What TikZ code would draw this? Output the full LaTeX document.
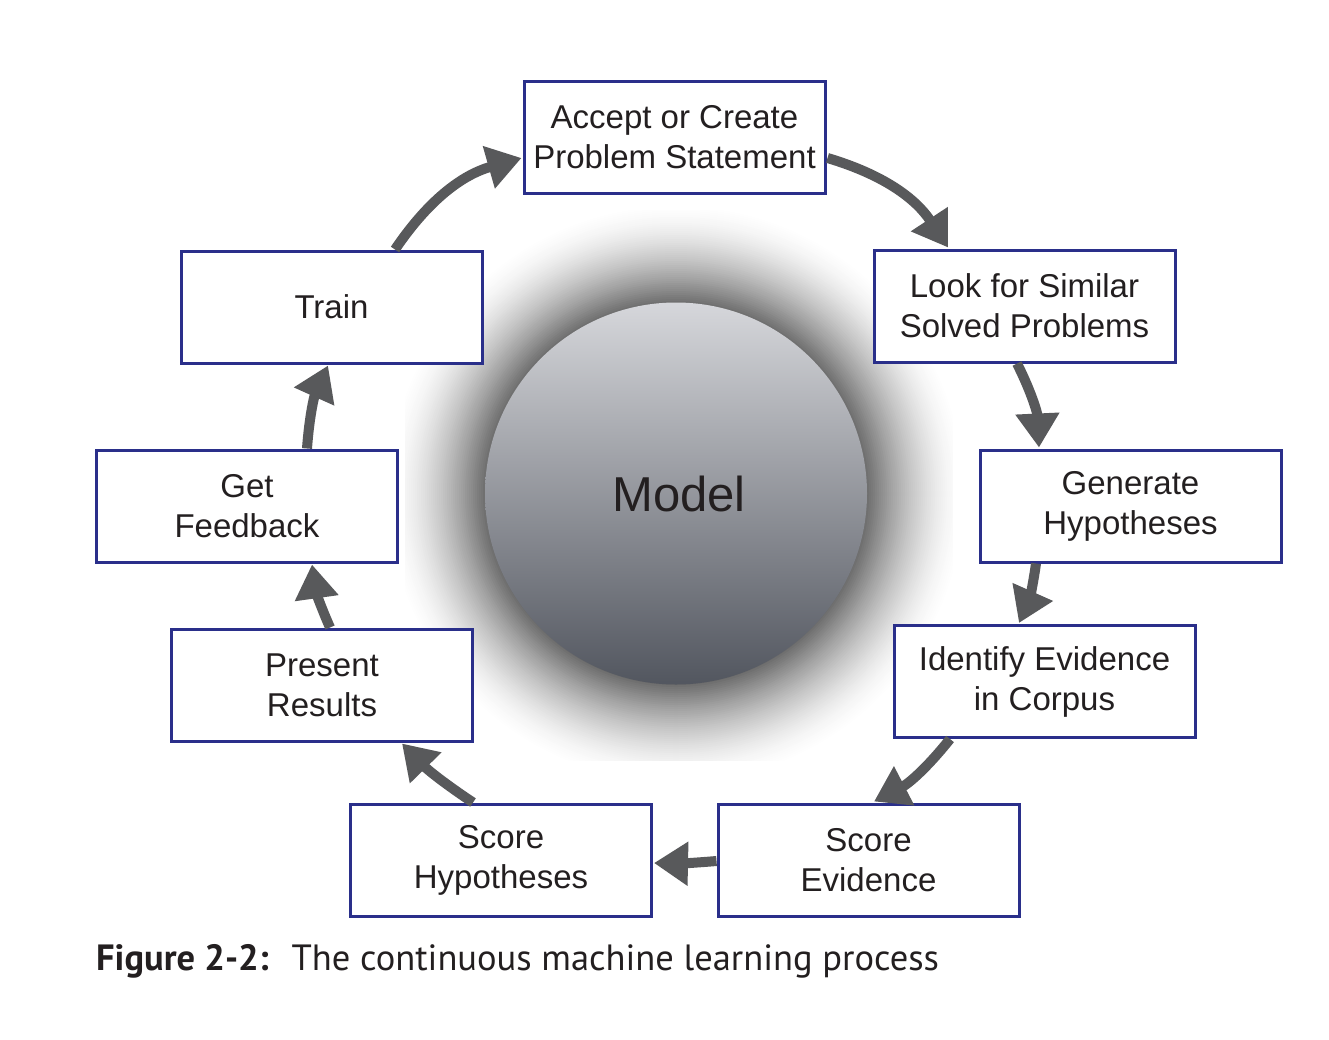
\documentclass[tikz,border=0pt]{standalone}
\usepackage{fontspec}
\setmainfont{Liberation Sans}
\newfontfamily\capfont{PT Sans}
\usetikzlibrary{arrows.meta,calc}
\definecolor{boxblue}{RGB}{42,47,138}
\definecolor{arrowgray}{RGB}{88,89,91}
\definecolor{txt}{RGB}{35,31,32}
\definecolor{ctop}{RGB}{214,215,219}
\definecolor{cbot}{RGB}{82,86,95}
\begin{document}
\begin{tikzpicture}[x=1pt,y=-1pt,
  stepbox/.style={draw=boxblue, line width=3pt, fill=white, minimum width=301pt, minimum height=112pt, inner sep=0pt, align=center, text=txt, font=\fontsize{33}{40}\selectfont},
  flow/.style={draw=arrowgray, line width=10pt, -{Triangle[length=34pt,width=42pt]}},
]
\useasboundingbox (0,0) rectangle (1329,1039);
\fill[white] (0,0) rectangle (1329,1039);
% glow
\begin{scope}
\clip (405,210) rectangle (952,760);
\foreach \r in {293,291,...,191} {
  \pgfmathsetmacro\gl{58*(max(0,1-(\r-191)/100))^1.6}
  \fill[black!\gl!white] (676,494) circle [radius=\r];
}
\end{scope}
\node[circle, minimum size=382pt, inner sep=0pt, top color=ctop, bottom color=cbot, text=txt, font=\fontsize{49}{58}\selectfont] (model) at (676,493.5) {\hspace{6pt}Model};

\node[stepbox] (accept)   at (674.5,137.5) {Accept or Create\\Problem Statement};
\node[stepbox] (look)     at (1024.5,306)  {Look for Similar\\Solved Problems};
\node[stepbox] (gen)      at (1130.5,506)  {Generate\\Hypotheses};
\node[stepbox] (ident)    at (1044.5,681.5){Identify Evidence\\in Corpus};
\node[stepbox] (scoreev)  at (868.5,860)   {Score\\Evidence};
\node[stepbox] (scorehyp) at (501,860)     {Score\\Hypotheses};
\node[stepbox] (present)  at (322,685)     {Present\\Results};
\node[stepbox] (get)      at (247,506)     {Get\\Feedback};
\node[stepbox] (train)    at (331.5,307)   {Train};

\draw[flow] ($(train.north)+(63.5,0)$) to[bend left=20] ($(accept.west)+(-1,20.5)$);
\draw[flow] ($(accept.east)+(1,20.5)$) to[bend left=20] ($(look.north)+(-76.5,-1)$);
\draw[flow] ($(look.south)+(-7.5,0)$) to[bend left=12] ($(gen.north)+(-91.5,-1)$);
\draw[flow] ($(gen.south)+(-94.5,0)$) to[bend left=8] ($(ident.north)+(-25.5,-1)$);
\draw[flow] ($(ident.south)+(-94.5,0)$) to[bend left=12] ($(scoreev.north)+(5.5,-1)$);
\draw[flow] ($(scoreev.west)+(0,1)$) to[bend left=3] ($(scorehyp.east)+(1,3)$);
\draw[flow] ($(scorehyp.north)+(-28,0)$) to[bend left=6] ($(present.south)+(80,1)$);
\draw[flow] ($(present.north)+(8,0)$) to[bend left=8] ($(get.south)+(65,1)$);
\draw[flow] ($(get.north)+(60,0)$) to[bend left=10] ($(train.south)+(-3.5,1)$);

\node[anchor=base west, inner sep=0pt, text=txt, font=\capfont\fontsize{36.5}{42}\selectfont] (cap) at (96,970) {\textbf{Figure 2-2:}\hspace{10pt} The continuous machine learning process};
\end{tikzpicture}
\end{document}
